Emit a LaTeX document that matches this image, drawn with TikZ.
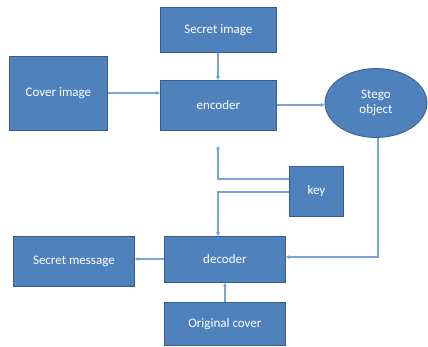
\documentclass[tikz,border=0pt]{standalone}
\usepackage{fontspec}
\setmainfont{Carlito}
\usetikzlibrary{arrows.meta,shapes.geometric}
\definecolor{boxfill}{HTML}{4F81BD}
\definecolor{boxedge}{HTML}{385D8A}
\definecolor{linkc}{HTML}{7BA3D3}
\begin{document}
\begin{tikzpicture}[x=1pt,y=-1pt,
  blk/.style={draw=boxedge,line width=0.8pt,fill=boxfill,text=white,font=\fontsize{13}{15}\selectfont,inner sep=0pt,anchor=north west},
  link/.style={draw=linkc,line width=1.2pt,-{Stealth[length=4pt,width=4pt]}}]
\useasboundingbox[fill=white] (0,0) rectangle (428,347);
\node[blk,minimum width=116pt,minimum height=45pt] (secret) at (160,7) {Secret image};
\node[blk,minimum width=98pt,minimum height=74pt] (cover) at (9,56) {Cover image};
\node[blk,minimum width=116pt,minimum height=50pt] (enc) at (160,80) {encoder};
\node[draw=boxedge,line width=0.8pt,fill=boxfill,text=white,font=\fontsize{13}{15}\selectfont,ellipse,minimum width=102pt,minimum height=69pt,inner sep=0pt,align=center] (stego) at (376,103) {Stego\\object};
\node[blk,minimum width=54pt,minimum height=50pt] (key) at (289,166) {key};
\node[blk,minimum width=121pt,minimum height=46pt] (dec) at (164,236) {decoder};
\node[blk,minimum width=121pt,minimum height=50pt] (msg) at (13,236) {Secret message};
\node[blk,minimum width=121pt,minimum height=43pt] (orig) at (164,302) {Original cover};
\draw[link] (secret.south -| 218,0) -- (enc.north -| 218,0);
\draw[link] (cover.east |- 0,93) -- (enc.west |- 0,93);
\draw[link] (enc.east |- 0,105) -- (stego.west |- 0,105);
\draw[link] (stego.south -| 378,0) -- (378,257) -- (dec.east |- 0,257);
\draw[link,shorten >=15pt] (key.west |- 0,179) -- (218,179) -- (enc.south -| 218,0);
\draw[link] (key.west |- 0,192) -- (218,192) -- (dec.north -| 218,0);
\draw[link] (dec.west |- 0,259) -- (msg.east |- 0,259);
\draw[link] (orig.north -| 225,0) -- (dec.south -| 225,0);
\end{tikzpicture}
\end{document}
